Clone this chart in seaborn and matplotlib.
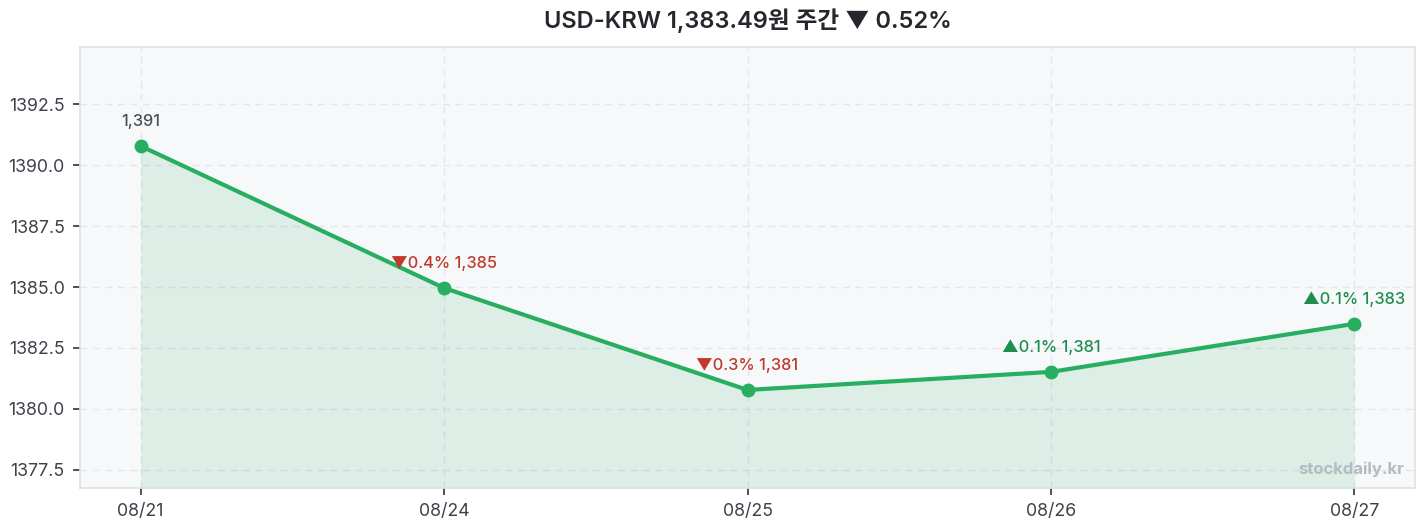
import matplotlib
matplotlib.use("Agg")
import matplotlib.pyplot as plt
import seaborn as sns
import pandas as pd

dates = ["08/21", "08/24", "08/25", "08/26", "08/27"]
rates = [1390.78, 1384.96, 1380.78, 1381.52, 1383.49]
labels = ["1,391", "▼0.4% 1,385", "▼0.3% 1,381", "▲0.1% 1,381", "▲0.1% 1,383"]
label_colors = ["#4a4f57", "#c0392b", "#c0392b", "#1e8e4e", "#1e8e4e"]
title = "USD-KRW 1,383.49원 주간 ▼ 0.52%"

sns.set_theme(style="whitegrid")
plt.rcParams["font.family"] = ["Inter", "Noto Sans CJK KR", "DejaVu Sans"]

df = pd.DataFrame({"date": dates, "rate": rates})
df["pos"] = range(len(df))

fig = plt.figure(figsize=(14.27, 5.29), dpi=100)
ax = fig.add_axes([80 / 1427, 1 - 488 / 529, (1415 - 80) / 1427, (488 - 47) / 529])
ax.set_facecolor("#f7f8fa")

ymin, ymax = 1376.76, 1394.84
line_color = "#27ae60"
ax.fill_between(df["pos"], df["rate"], ymin, color=line_color, alpha=0.13, linewidth=0)
sns.lineplot(data=df, x="pos", y="rate", ax=ax, color=line_color, linewidth=3,
             marker="o", markersize=10, markeredgewidth=0)

for p, r, lab, c in zip(df["pos"], df["rate"], labels, label_colors):
    ax.annotate(lab, (p, r), xytext=(0, 12), textcoords="offset points",
                ha="center", va="bottom", fontsize=11.8, color=c, fontweight="medium")

yt = [1377.5, 1380.0, 1382.5, 1385.0, 1387.5, 1390.0, 1392.5]
ax.set_xlim(-0.2, 4.2)
ax.set_ylim(ymin, ymax)
ax.set_xticks(df["pos"])
ax.set_xticklabels(dates)
ax.set_yticks(yt)
ax.set_yticklabels([f"{v:.1f}" for v in yt])
ax.set_xlabel("")
ax.set_ylabel("")
ax.tick_params(axis="both", labelsize=12.8, labelcolor="#3d424a", length=5, width=1.2,
               color="#333333", left=True, bottom=True, pad=6)
ax.grid(True, linestyle=(0, (5, 4)), color="#e4e6eb", linewidth=1)
for s in ax.spines.values():
    s.set_color("#dde0e6")
    s.set_linewidth(1.2)

ax.text(0.992, 0.025, "stockdaily.kr", transform=ax.transAxes, ha="right", va="bottom",
        fontsize=12, color="#b4bbc3", fontweight="bold")

ax.text(0.5, 1 + 26 / 441, title, transform=ax.transAxes, ha="center", va="center",
        fontsize=17, fontweight="semibold", color="#24272c")

fig.savefig("out.png", dpi=100)
